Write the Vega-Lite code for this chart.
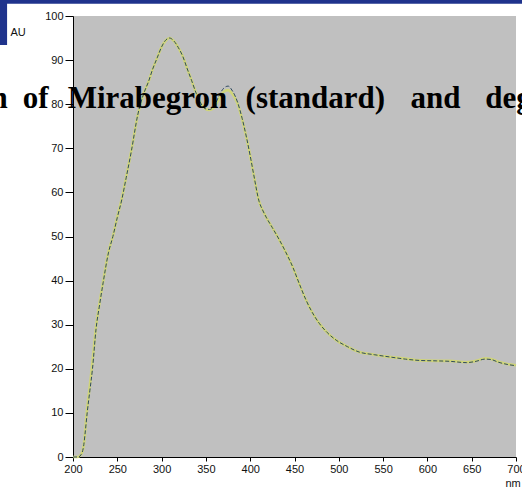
{
  "$schema": "https://vega.github.io/schema/vega-lite/v6.json",
  "width": 443,
  "height": 441,
  "autosize": "none",
  "padding": {"left": 73, "top": 16, "right": 6, "bottom": 32},
  "background": "white",
  "config": {
    "view": {"fill": "#c0c0c0", "stroke": null},
    "axis": {
      "grid": false,
      "labelFlush": false,
      "labelFont": "Liberation Sans",
      "labelFontSize": 11,
      "labelColor": "#111",
      "tickColor": "#000",
      "domainColor": "#000",
      "titleFont": "Liberation Sans",
      "titleFontSize": 11,
      "titleFontWeight": "normal",
      "titleColor": "#111"
    }
  },
  "datasets": {
    "spectra": [
      {"nm": 200, "au": 0, "s": "degraded"}, {"nm": 205, "au": 0, "s": "degraded"}, {"nm": 208, "au": 0.3, "s": "degraded"},
      {"nm": 211, "au": 1.5, "s": "degraded"}, {"nm": 213, "au": 4, "s": "degraded"}, {"nm": 215, "au": 9, "s": "degraded"},
      {"nm": 218, "au": 14.5, "s": "degraded"}, {"nm": 221, "au": 19.7, "s": "degraded"}, {"nm": 226, "au": 29.5, "s": "degraded"},
      {"nm": 230, "au": 35, "s": "degraded"}, {"nm": 234, "au": 39.7, "s": "degraded"}, {"nm": 240, "au": 46.5, "s": "degraded"},
      {"nm": 245, "au": 50, "s": "degraded"}, {"nm": 250, "au": 54.5, "s": "degraded"}, {"nm": 255, "au": 58.5, "s": "degraded"},
      {"nm": 260, "au": 63.5, "s": "degraded"}, {"nm": 266, "au": 69.6, "s": "degraded"}, {"nm": 273, "au": 77.5, "s": "degraded"},
      {"nm": 280, "au": 82.5, "s": "degraded"}, {"nm": 285, "au": 85, "s": "degraded"}, {"nm": 290, "au": 88, "s": "degraded"},
      {"nm": 295, "au": 90.5, "s": "degraded"}, {"nm": 300, "au": 93, "s": "degraded"}, {"nm": 305, "au": 94.5, "s": "degraded"},
      {"nm": 309, "au": 95, "s": "degraded"}, {"nm": 314, "au": 94.3, "s": "degraded"}, {"nm": 319, "au": 92.8, "s": "degraded"},
      {"nm": 324, "au": 90.8, "s": "degraded"}, {"nm": 329, "au": 88, "s": "degraded"}, {"nm": 334, "au": 85.3, "s": "degraded"},
      {"nm": 339, "au": 82.5, "s": "degraded"}, {"nm": 344, "au": 80.3, "s": "degraded"}, {"nm": 349, "au": 79, "s": "degraded"},
      {"nm": 354, "au": 78.7, "s": "degraded"}, {"nm": 360, "au": 79.5, "s": "degraded"}, {"nm": 365, "au": 81.3, "s": "degraded"},
      {"nm": 370, "au": 82.8, "s": "degraded"}, {"nm": 375, "au": 83.2, "s": "degraded"}, {"nm": 380, "au": 82.3, "s": "degraded"},
      {"nm": 386, "au": 80, "s": "degraded"}, {"nm": 391, "au": 76.5, "s": "degraded"}, {"nm": 396, "au": 72.2, "s": "degraded"},
      {"nm": 400, "au": 68.3, "s": "degraded"}, {"nm": 404, "au": 64, "s": "degraded"}, {"nm": 410, "au": 58, "s": "degraded"},
      {"nm": 414, "au": 56, "s": "degraded"}, {"nm": 418, "au": 54.4, "s": "degraded"}, {"nm": 425, "au": 52, "s": "degraded"},
      {"nm": 433, "au": 49.2, "s": "degraded"}, {"nm": 440, "au": 46.5, "s": "degraded"}, {"nm": 448, "au": 43.1, "s": "degraded"},
      {"nm": 455, "au": 39.5, "s": "degraded"}, {"nm": 463, "au": 35.6, "s": "degraded"}, {"nm": 470, "au": 32.8, "s": "degraded"},
      {"nm": 478, "au": 30.3, "s": "degraded"}, {"nm": 487, "au": 28.2, "s": "degraded"}, {"nm": 497, "au": 26.5, "s": "degraded"},
      {"nm": 510, "au": 25, "s": "degraded"}, {"nm": 523, "au": 23.8, "s": "degraded"}, {"nm": 540, "au": 23.2, "s": "degraded"},
      {"nm": 557, "au": 22.7, "s": "degraded"}, {"nm": 575, "au": 22.3, "s": "degraded"}, {"nm": 591, "au": 21.9, "s": "degraded"},
      {"nm": 610, "au": 21.8, "s": "degraded"}, {"nm": 625, "au": 21.8, "s": "degraded"}, {"nm": 644, "au": 21.5, "s": "degraded"},
      {"nm": 655, "au": 21.8, "s": "degraded"}, {"nm": 665, "au": 22.4, "s": "degraded"}, {"nm": 672, "au": 22.2, "s": "degraded"},
      {"nm": 680, "au": 21.6, "s": "degraded"}, {"nm": 690, "au": 21.1, "s": "degraded"}, {"nm": 700, "au": 20.8, "s": "degraded"},

      {"nm": 200, "au": 0, "s": "standard"}, {"nm": 206, "au": 0, "s": "standard"}, {"nm": 209, "au": 0.5, "s": "standard"},
      {"nm": 212, "au": 2.5, "s": "standard"}, {"nm": 214, "au": 6, "s": "standard"}, {"nm": 216, "au": 10, "s": "standard"},
      {"nm": 219, "au": 15, "s": "standard"}, {"nm": 222, "au": 20, "s": "standard"}, {"nm": 226, "au": 29, "s": "standard"},
      {"nm": 230, "au": 34.5, "s": "standard"}, {"nm": 234, "au": 39.5, "s": "standard"}, {"nm": 240, "au": 46.3, "s": "standard"},
      {"nm": 245, "au": 50, "s": "standard"}, {"nm": 250, "au": 54.3, "s": "standard"}, {"nm": 255, "au": 58.3, "s": "standard"},
      {"nm": 260, "au": 63.3, "s": "standard"}, {"nm": 266, "au": 69.5, "s": "standard"}, {"nm": 273, "au": 77.5, "s": "standard"},
      {"nm": 280, "au": 82.5, "s": "standard"}, {"nm": 285, "au": 85, "s": "standard"}, {"nm": 290, "au": 88, "s": "standard"},
      {"nm": 295, "au": 90.5, "s": "standard"}, {"nm": 300, "au": 93, "s": "standard"}, {"nm": 305, "au": 94.6, "s": "standard"},
      {"nm": 309, "au": 95, "s": "standard"}, {"nm": 314, "au": 94.3, "s": "standard"}, {"nm": 319, "au": 92.8, "s": "standard"},
      {"nm": 324, "au": 90.8, "s": "standard"}, {"nm": 329, "au": 88, "s": "standard"}, {"nm": 334, "au": 85.3, "s": "standard"},
      {"nm": 339, "au": 82.5, "s": "standard"}, {"nm": 344, "au": 80.3, "s": "standard"}, {"nm": 349, "au": 79, "s": "standard"},
      {"nm": 354, "au": 78.8, "s": "standard"}, {"nm": 360, "au": 79.8, "s": "standard"}, {"nm": 365, "au": 82, "s": "standard"},
      {"nm": 370, "au": 83.6, "s": "standard"}, {"nm": 375, "au": 84.1, "s": "standard"}, {"nm": 380, "au": 83, "s": "standard"},
      {"nm": 386, "au": 80.3, "s": "standard"}, {"nm": 391, "au": 76.7, "s": "standard"}, {"nm": 396, "au": 72.3, "s": "standard"},
      {"nm": 400, "au": 68.3, "s": "standard"}, {"nm": 404, "au": 64, "s": "standard"}, {"nm": 410, "au": 58, "s": "standard"},
      {"nm": 414, "au": 56, "s": "standard"}, {"nm": 418, "au": 54.4, "s": "standard"}, {"nm": 425, "au": 52, "s": "standard"},
      {"nm": 433, "au": 49.2, "s": "standard"}, {"nm": 440, "au": 46.5, "s": "standard"}, {"nm": 448, "au": 43.1, "s": "standard"},
      {"nm": 455, "au": 39.5, "s": "standard"}, {"nm": 463, "au": 35.6, "s": "standard"}, {"nm": 470, "au": 32.8, "s": "standard"},
      {"nm": 478, "au": 30.3, "s": "standard"}, {"nm": 487, "au": 28.2, "s": "standard"}, {"nm": 497, "au": 26.5, "s": "standard"},
      {"nm": 510, "au": 25, "s": "standard"}, {"nm": 523, "au": 23.8, "s": "standard"}, {"nm": 540, "au": 23.2, "s": "standard"},
      {"nm": 557, "au": 22.7, "s": "standard"}, {"nm": 575, "au": 22.2, "s": "standard"}, {"nm": 591, "au": 21.9, "s": "standard"},
      {"nm": 610, "au": 21.8, "s": "standard"}, {"nm": 625, "au": 21.7, "s": "standard"}, {"nm": 644, "au": 21.4, "s": "standard"},
      {"nm": 655, "au": 21.7, "s": "standard"}, {"nm": 665, "au": 22.2, "s": "standard"}, {"nm": 672, "au": 22.1, "s": "standard"},
      {"nm": 680, "au": 21.5, "s": "standard"}, {"nm": 690, "au": 21, "s": "standard"}, {"nm": 700, "au": 20.7, "s": "standard"}
    ],
    "words": [
      {"word": "n", "x": 107, "y": 79.1},
      {"word": "of", "x": 143.3, "y": 79.1},
      {"word": "Mirabegron", "x": 194, "y": 79.1},
      {"word": "(standard)", "x": 394.8, "y": 79.1},
      {"word": "and", "x": 580.8, "y": 79.1},
      {"word": "degraded", "x": 665.4, "y": 79.1}
    ],
    "bands": [
      {"x1": 100, "x2": 740, "y1": 102.8, "y2": 110},
      {"x1": 100, "x2": 125.6, "y1": 93.4, "y2": 110}
    ]
  },
  "layer": [
    {
      "data": {"name": "bands"},
      "mark": {"type": "rect", "color": "#1f338c"},
      "encoding": {
        "x": {"field": "x1", "type": "quantitative"},
        "x2": {"field": "x2"},
        "y": {"field": "y1", "type": "quantitative"},
        "y2": {"field": "y2"}
      }
    },
    {
      "data": {"name": "spectra"},
      "transform": [{"filter": "datum.s === 'degraded'"}],
      "mark": {"type": "line", "color": "#cfd47a", "strokeWidth": 2.6, "interpolate": "monotone"},
      "encoding": {
        "x": {"field": "nm", "type": "quantitative", "scale": {"domain": [200, 700], "nice": false, "zero": false},
          "axis": {"values": [200, 250, 300, 350, 400, 450, 500, 550, 600, 650, 700], "tickSize": 4, "labelPadding": 2,
            "title": "nm", "titleAlign": "left", "titleBaseline": "alphabetic", "titleX": 432, "titleY": 29}},
        "y": {"field": "au", "type": "quantitative", "scale": {"domain": [0, 100], "nice": false},
          "axis": {"values": [0, 10, 20, 30, 40, 50, 60, 70, 80, 90, 100], "tickSize": 8, "labelPadding": 2,
            "title": "AU", "titleAngle": 0, "titleAlign": "left", "titleBaseline": "alphabetic", "titleX": -63, "titleY": 19}}
      }
    },
    {
      "data": {"name": "spectra"},
      "transform": [{"filter": "datum.s === 'standard'"}],
      "mark": {"type": "line", "color": "#2e4a5e", "strokeWidth": 1, "strokeDash": [4, 2], "interpolate": "monotone"},
      "encoding": {
        "x": {"field": "nm", "type": "quantitative"},
        "y": {"field": "au", "type": "quantitative"}
      }
    },
    {
      "data": {"name": "words"},
      "mark": {"type": "text", "font": "Liberation Serif", "fontWeight": "bold", "fontSize": 31, "align": "left", "baseline": "alphabetic", "color": "#000"},
      "encoding": {
        "x": {"field": "x", "type": "quantitative"},
        "y": {"field": "y", "type": "quantitative"},
        "text": {"field": "word"}
      }
    }
  ]
}
